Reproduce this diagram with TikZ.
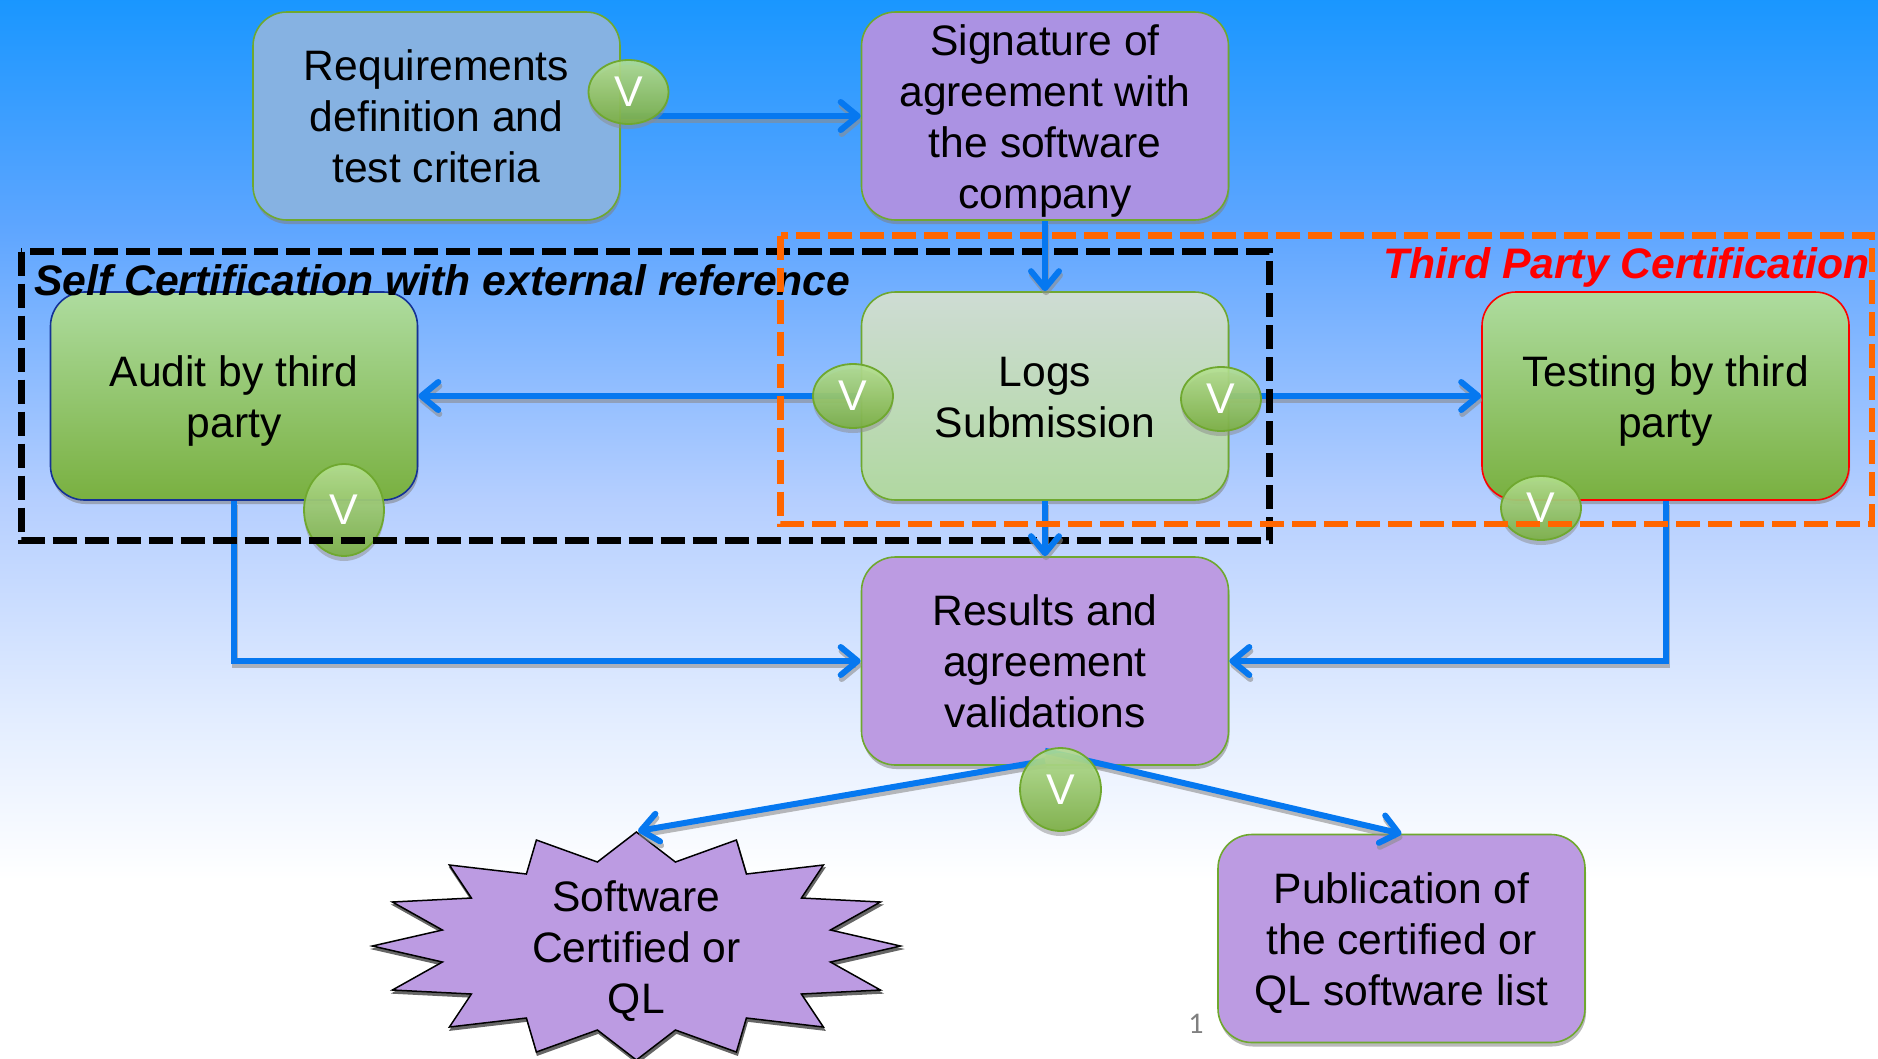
\documentclass[tikz,border=0pt]{standalone}
\usepackage{fontspec}
\setmainfont{Liberation Sans}
\newfontfamily\numfont{Carlito}
\usetikzlibrary{arrows.meta,shadows,shapes.geometric}
\definecolor{linkblue}{HTML}{0678F0}
\definecolor{edgegreen}{HTML}{6FA82F}
\definecolor{purpleA}{HTML}{AB92E3}
\definecolor{purpleB}{HTML}{BC9BE2}
\definecolor{reqblue}{HTML}{86B2E2}
\definecolor{dashorange}{HTML}{FF6600}
\definecolor{greentop}{HTML}{AEDC9F}
\definecolor{greenbot}{HTML}{79B040}
\definecolor{logstop}{HTML}{CEDCD4}
\definecolor{logsbot}{HTML}{B0D8A0}
\definecolor{badgetop}{HTML}{B6E292}
\definecolor{badgebot}{HTML}{7AB040}
\definecolor{auditedge}{HTML}{143296}
\pgfdeclareverticalshading{slidebg}{100bp}{
  color(0bp)=(white); color(25bp)=(white); color(33.4bp)=(white);
  rgb(41bp)=(0.89,0.93,1); rgb(51.4bp)=(0.71,0.81,1);
  rgb(64.2bp)=(0.37,0.65,1); rgb(75bp)=(0.10,0.59,1); rgb(100bp)=(0.10,0.59,1)}
\tikzset{
  x=1pt,y=-1pt,
  boxshadow/.style={general shadow={shadow xshift=1pt,shadow yshift=-4pt,fill=black!50,fill opacity=.55}},
  card/.style={rounded corners=34pt,minimum width=367pt,minimum height=208pt,inner sep=0pt,
    align=center,line width=1.6pt,draw=edgegreen,font=\fontsize{42.6}{51}\selectfont,text=black,boxshadow},
  greencard/.style={card,top color=greentop,bottom color=greenbot},
  badge/.style={ellipse,minimum width=80pt,minimum height=64pt,inner sep=0pt,line width=1.8pt,draw=edgegreen,
    top color=badgetop,bottom color=badgebot,fill opacity=.88,text opacity=1,
    text=white,font=\fontsize{43}{51}\selectfont,
    general shadow={shadow xshift=0pt,shadow yshift=-5pt,fill=black!45,fill opacity=.5}},
  link/.style={line width=6pt,draw=linkblue,-{Straight Barb[length=17pt,width=28pt,round]}},
  linkshade/.style={line width=6pt,draw=black!45,draw opacity=.6,-{Straight Barb[length=17pt,width=28pt,round]}},
  blackdash/.style={draw=black,line width=7pt,dash pattern=on 24pt off 8pt},
  orangedash/.style={draw=dashorange,line width=6.5pt,dash pattern=on 24pt off 8pt},
  zonelabel/.style={font=\fontsize{42.7}{51}\selectfont\bfseries\itshape,inner sep=0pt},
}
\newcommand{\linkpath}[1]{%
  \draw[linkshade,transform canvas={shift={(1pt,-4pt)}}] #1;
  \draw[link] #1;}
\begin{document}
\begin{tikzpicture}
\useasboundingbox (0,0) rectangle (1878,1058);
\clip (0,0) rectangle (1878,1058);
\shade[shading=slidebg] (0,0) rectangle (1878,1058);

% boxes
\node[card,fill=reqblue] (req) at (436.5,116) {Requirements\\definition and\\test criteria};
\node[card,fill=purpleA,text height=194pt] (sig) at (1045,116) {Signature of\\agreement with\\the software\\company};
\node[greencard,draw=auditedge,text height=92pt] (audit) at (234,396) {Audit by third\\party};
\node[card,top color=logstop,bottom color=logsbot,text height=83pt] (logs) at (1045,396) {Logs\\Submission};
\node[greencard,draw=red,text height=92pt] (test) at (1665.5,396) {Testing by third\\party};
\node[card,fill=purpleB] (res) at (1045,661) {Results and\\agreement\\validations};
\node[card,fill=purpleB,text height=143pt] (pub) at (1401.5,938.5) {Publication of\\the certified or\\QL software list};

% star
\begin{scope}[shift={(636.4,946)}]
\draw[fill=black!60,draw=black!60,line width=1.5pt,transform canvas={shift={(1pt,-3pt)}}]
  (0,-114)--(39,-84)--(100,-106)--(110,-72)--(187,-81)--(165,-48)--(244,-44)--(194,-16)--(264,0)
  --(194,16)--(244,44)--(165,48)--(187,81)--(110,72)--(100,106)--(39,84)--(0,114)
  --(-39,84)--(-100,106)--(-110,72)--(-187,81)--(-165,48)--(-244,44)--(-194,16)--(-264,0)
  --(-194,-16)--(-244,-44)--(-165,-48)--(-187,-81)--(-110,-72)--(-100,-106)--(-39,-84)--cycle;
\draw[fill=purpleB,draw=black,line width=1.5pt]
  (0,-114)--(39,-84)--(100,-106)--(110,-72)--(187,-81)--(165,-48)--(244,-44)--(194,-16)--(264,0)
  --(194,16)--(244,44)--(165,48)--(187,81)--(110,72)--(100,106)--(39,84)--(0,114)
  --(-39,84)--(-100,106)--(-110,72)--(-187,81)--(-165,48)--(-244,44)--(-194,16)--(-264,0)
  --(-194,-16)--(-244,-44)--(-165,-48)--(-187,-81)--(-110,-72)--(-100,-106)--(-39,-84)--cycle;
\end{scope}
\node[align=center,inner sep=0pt,font=\fontsize{42.6}{51}\selectfont,text height=142pt] (soft) at (636.4,947) {Software\\Certified or\\QL};
\coordinate (startip) at (638,831);

% connectors below the zones
\linkpath{(req.east) -- (sig.west)}
\linkpath{(logs.west) -- (audit.east)}
\linkpath{(logs.east) -- (test.west)}
\linkpath{(audit.south) |- (res.west)}
\linkpath{(test.south) |- (res.east)}
\linkpath{([yshift=5pt]res.south) -- (startip)}
\linkpath{([yshift=15pt]res.south) -- (pub.north)}

% approval marks
\node[badge] (v1) at (628.5,92) {V};
\node[badge] (v2) at (853,396) {V};
\node[badge] (v3) at (1221,399) {V};
\node[badge,minimum height=92pt] (v4) at (344,510) {V};
\node[badge] (v5) at (1541,508) {V};
\node[badge,minimum width=81pt,minimum height=83pt] (v6) at (1060.5,789.5) {V};

% zones
\draw[blackdash] (21,251.5) rectangle (1269,540);
\linkpath{(logs.south) -- (res.north)}
\node[zonelabel,anchor=west] (selflabel) at (34,280) {Self Certification with external reference};
\node[zonelabel,anchor=east,text=red] (thirdlabel) at (1870,267) {Third Party Certification};
\draw[orangedash] (780.5,235.7) rectangle (1872,524);
\linkpath{(sig.south) -- (logs.north)}

\node[font=\numfont\fontsize{30}{34}\selectfont,text=black!50,inner sep=0pt] (pagenum) at (1196,1024) {1};
\end{tikzpicture}
\end{document}
